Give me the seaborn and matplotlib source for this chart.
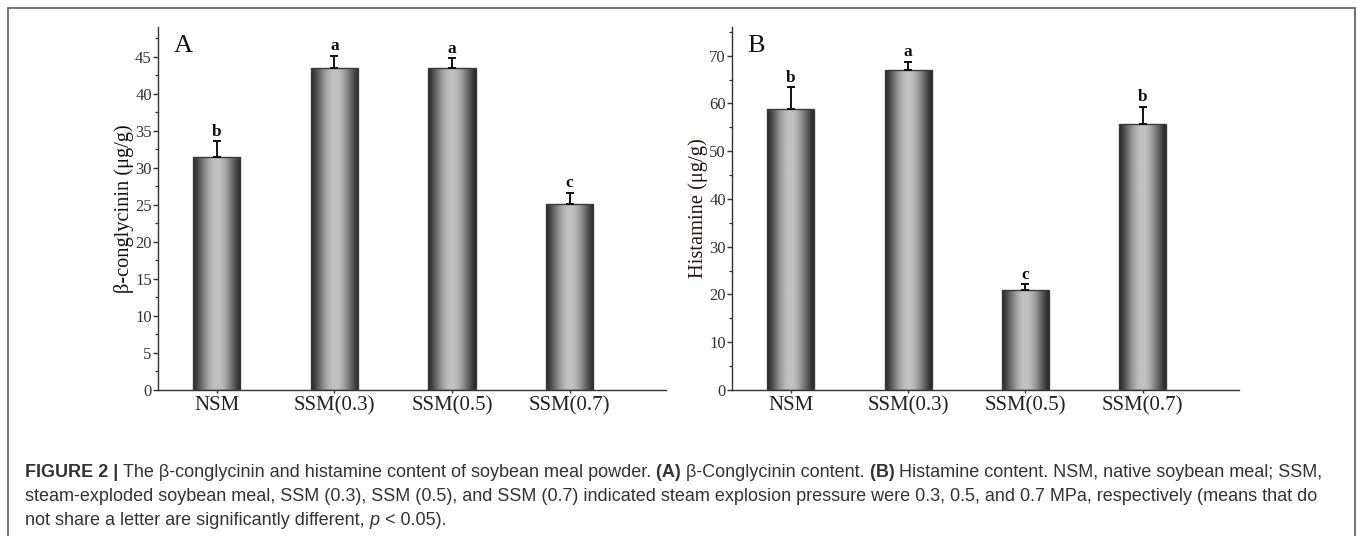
import numpy as np
import pandas as pd
import matplotlib
matplotlib.use("Agg")
import matplotlib.pyplot as plt
import seaborn as sns
from matplotlib.patches import Rectangle

# ---------------- data ----------------
categories = ["NSM", "SSM(0.3)", "SSM(0.5)", "SSM(0.7)"]
conglycinin = [31.5, 43.4, 43.4, 25.1]
conglycinin_err = [2.1, 1.7, 1.4, 1.5]
conglycinin_letters = ["b", "a", "a", "c"]
histamine = [58.8, 67.1, 20.9, 55.7]
histamine_err = [4.6, 1.6, 1.3, 3.6]
histamine_letters = ["b", "a", "c", "b"]

sns.set_theme(style="white")
plt.rcParams["font.family"] = ["Liberation Serif", "DejaVu Serif"]

W, H = 1357, 536
fig = plt.figure(figsize=(W / 100, H / 100), dpi=100)

def px_axes(left, right, top, bottom):
    return fig.add_axes([left / W, 1 - bottom / H, (right - left) / W, (bottom - top) / H])

axA = px_axes(158, 666, 27, 390)
axB = px_axes(732, 1239, 27, 390)

grad_t = np.linspace(0, 1, 256)
grad = 0.16 + 0.60 * np.sin(np.pi * grad_t) ** 1.3
grad = grad[None, :]

def panel(ax, vals, errs, letters, ylim, major, minor, ylabel, letter, lab_color, lab_size):
    df = pd.DataFrame({"cat": categories, "val": vals})
    sns.barplot(data=df, x="cat", y="val", ax=ax, width=0.4, color="0.5",
                edgecolor="#3a3a3a", linewidth=1.0, errorbar=None)
    for p in list(ax.patches):
        x0, y0, w, h = p.get_x(), p.get_y(), p.get_width(), p.get_height()
        im = ax.imshow(grad, cmap="gray", vmin=0, vmax=1, aspect="auto",
                       extent=(x0, x0 + w, y0, y0 + h), zorder=1.9,
                       interpolation="bilinear")
        im.set_clip_path(p)
        p.set_facecolor("none")
        p.set_zorder(2)
    xs = np.arange(len(categories))
    ax.errorbar(xs, vals, yerr=[np.zeros(len(vals)), errs], fmt="none",
                ecolor="#111111", elinewidth=1.4, capsize=3.0, capthick=1.4, zorder=3)
    for x, v, e, l in zip(xs, vals, errs, letters):
        ax.text(x, v + e + ylim * 0.004, l, ha="center", va="bottom",
                fontsize=12.5, fontweight="bold", color="#111111")
    ax.set_xlim(-0.5, 3.82)
    ax.set_ylim(0, ylim)
    ax.set_yticks(np.arange(0, ylim, major))
    ax.set_yticks(np.arange(0, ylim, minor), minor=True)
    ax.set_xlabel("")
    ax.set_ylabel(ylabel, fontsize=lab_size, color=lab_color)
    ax.yaxis.set_label_coords(-0.047, 0.5)
    for s in ["top", "right"]:
        ax.spines[s].set_visible(False)
    for s in ["left", "bottom"]:
        ax.spines[s].set_color("#333333")
        ax.spines[s].set_linewidth(1.0)
    ax.tick_params(axis="y", which="major", direction="out", length=3.5, width=1.0,
                   color="#333333", labelsize=12, labelcolor="#333333", pad=1, left=True)
    ax.tick_params(axis="y", which="minor", direction="out", length=2, width=0.9,
                   color="#333333", left=True)
    ax.tick_params(axis="x", which="major", direction="out", length=2.5, width=1.0,
                   color="#333333", labelsize=15, labelcolor="#222222", pad=2, bottom=True)
    ax.text(0.03, 0.978, letter, transform=ax.transAxes, fontsize=19, va="top", ha="left",
            color="#111111")
    ax.grid(False)

panel(axA, conglycinin, conglycinin_err, conglycinin_letters, 49, 5, 2.5,
      "β-conglycinin (μg/g)", "A", "#111111", 14.7)
panel(axB, histamine, histamine_err, histamine_letters, 76, 10, 5,
      "Histamine (μg/g)", "B", "#2a1414", 14.8)

# ---------------- frame ----------------
fig.patches.append(Rectangle((8 / W, -0.2), (1355 - 8) / W, 1.2 - 8 / H,
                             transform=fig.transFigure, fill=False,
                             edgecolor="#666666", linewidth=1.3))

# ---------------- caption ----------------
cap_font = ["Liberation Sans", "DejaVu Sans"]
cap_size = 13.0
lines = [
    [("FIGURE 2 | ", "bold", "normal"),
     ("The β-conglycinin and histamine content of soybean meal powder. ", "normal", "normal"),
     ("(A) ", "bold", "normal"), ("β-Conglycinin content. ", "normal", "normal"),
     ("(B) ", "bold", "normal"),
     ("Histamine content. NSM, native soybean meal; SSM,", "normal", "normal")],
    [("steam-exploded soybean meal, SSM (0.3), SSM (0.5), and SSM (0.7) indicated steam explosion pressure were 0.3, 0.5, and 0.7 MPa, respectively (means that do", "normal", "normal")],
    [("not share a letter are significantly different, ", "normal", "normal"),
     ("p", "normal", "italic"), (" < 0.05).", "normal", "normal")],
]
baselines = [477, 501, 525]
renderer = fig.canvas.get_renderer()
for segs, yb in zip(lines, baselines):
    x = 25 / W
    for s, wgt, sty in segs:
        t = fig.text(x, 1 - yb / H, s, fontsize=cap_size, fontweight=wgt, fontstyle=sty,
                     family=cap_font, color="#333333", va="baseline", ha="left")
        bb = t.get_window_extent(renderer=renderer)
        x += bb.width / W

fig.savefig("out.png", dpi=100)
